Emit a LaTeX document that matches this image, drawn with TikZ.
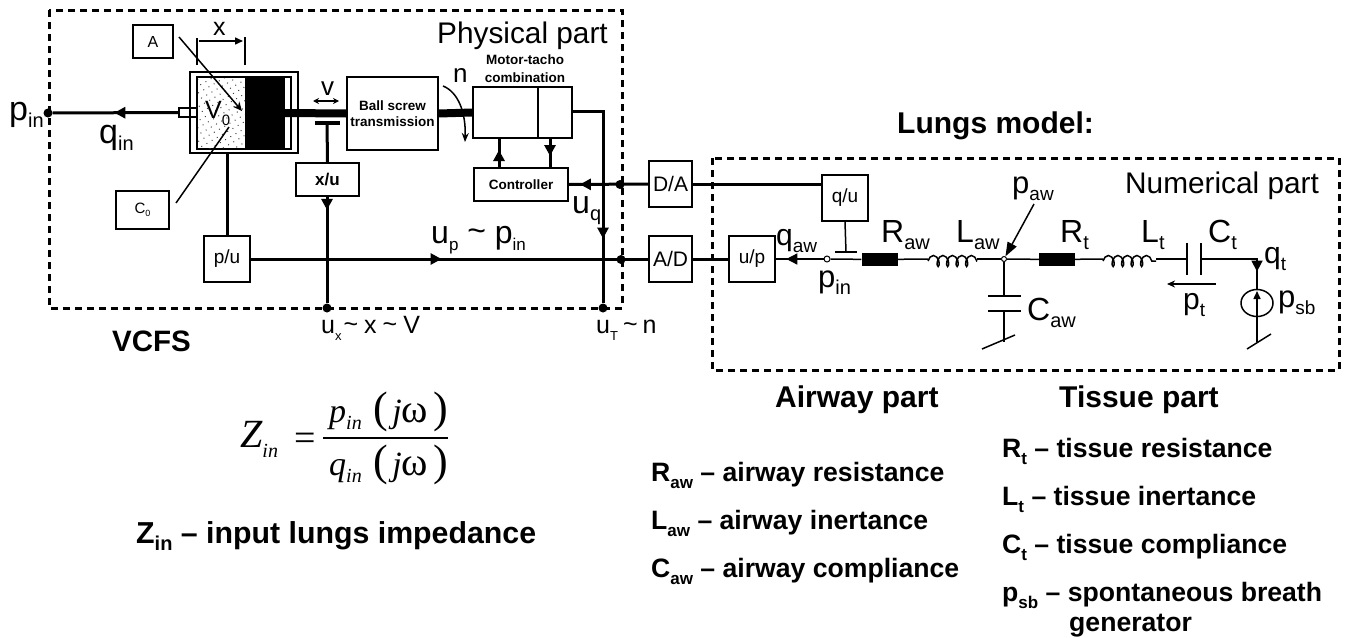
\documentclass[tikz,border=0pt]{standalone}
\usepackage{fontspec}
\setmainfont{Liberation Sans}
\newfontfamily\frmfont{Liberation Serif}
\usetikzlibrary{arrows.meta,decorations.markings,decorations.pathmorphing,patterns.meta,shapes.geometric}
\newcommand{\lowr}[2][19]{\raisebox{-7pt}{\fontsize{#1}{#1}\selectfont #2}}
\newcommand{\sz}[1]{\fontsize{#1}{#1}\selectfont}
\newcommand{\frmpar}[1]{{\upshape\sz{44}#1}}
\tikzset{
  bx/.style={draw,line width=1.6pt,inner sep=0pt,align=center},
  wire/.style={line width=1.5pt},
  sig/.style={line width=3pt},
  rod/.style={line width=8pt},
  frame/.style={line width=3pt,dash pattern=on 7pt off 5pt},
  lab/.style={anchor=base west,inner sep=0pt,font=\sz{#1}},
  lab/.default=32,
  bold/.style={anchor=base west,inner sep=0pt,font=\bfseries\sz{#1}},
  bold/.default=26.6,
  frm/.style={anchor=base west,inner sep=0pt,font=\frmfont\sz{#1}},
  frm/.default=34,
  dot/.style={circle,fill=black,inner sep=0pt,minimum size=9pt},
  odot/.style={circle,draw,fill=white,line width=1pt,inner sep=0pt,minimum size=6pt},
  res/.style={fill=black,inner sep=0pt,minimum width=36pt,minimum height=13pt},
  midtip/.style={postaction={decorate},decoration={markings,mark=at position #1 with {\arrow{Triangle[length=11pt,width=11pt]}}}},
  coilw/.style={wire,decoration={coil,aspect=0.55,segment length=9.5pt,amplitude=5.5pt},decorate},
}
\begin{document}
\begin{tikzpicture}[x=1pt,y=-1pt]
\path[use as bounding box] (0,0) rectangle (1346,637);

\draw[frame] (49,10) rectangle (622,308);
\draw[frame] (712,158) rectangle (1339,370);

\node[bx,minimum width=108pt,minimum height=81pt] (cyl) at (244,112.5) {};
\draw[line width=1.6pt] (197,77) rectangle (291,149);
\path[pattern={Dots[distance=6pt,radius=0.7pt,angle=30]},pattern color=black!75] (198,78) rectangle (245,148);
\fill (245,78) rectangle (285,148);
\node[bx,minimum width=18pt,minimum height=9pt,line width=1.2pt] (nozzle) at (188,112.5) {};
\node[lab=25] (vzero) at (205,118) {V\lowr[15]{0}};

\node[dot] (pinj) at (48,113) {};
\draw[sig,midtip=0.51] (nozzle.west) -- (pinj);
\node[lab=34] (pinl) at (9,120) {p\lowr[20]{in}};
\node[lab=34] (qinl) at (99,143) {q\lowr[20]{in}};

\node[bx,minimum width=40pt,minimum height=33pt,font=\sz{16}] (abox) at (153,41.5) {A};
\node[bx,minimum width=53pt,minimum height=38pt,font=\sz{15}] (cbox) at (142.5,210) {C\raisebox{-3pt}{\sz{9}0}};
\coordinate (afrom) at (179,37);
\coordinate (ato) at (242,111);
\coordinate (cfrom) at (176,203);
\coordinate (cto) at (229,127);
\draw[wire,-{Stealth[length=9pt,width=8pt]}] (afrom) -- (ato);
\draw[wire] (cfrom) -- (cto);

\coordinate (xl1) at (197,38);
\coordinate (xl2) at (197,65);
\coordinate (xr1) at (245,37);
\coordinate (xr2) at (245,65);
\draw[wire] (xl1) -- (xl2);
\draw[wire] (xr1) -- (xr2);
\draw[wire,-{Triangle[length=8pt,width=7pt]}] (199,41) -- (243,41);
\node[lab=25] (xlab) at (213,35) {x};

\node[bx,minimum width=91pt,minimum height=73pt,font=\bfseries\sz{13.5},align=center] (ball) at (392.5,113.5) {Ball screw\\[3pt]transmission};
\node[bx,minimum width=99pt,minimum height=51pt] (motor) at (522.5,112.5) {};
\draw[line width=1.6pt] (538,87) -- (538,138);
\node[bold=13.5,anchor=base] (mot1) at (525,64) {Motor-tacho};
\node[bold=13.5,anchor=base] (mot2) at (525,82) {combination};
\node[bx,minimum width=94pt,minimum height=33pt,font=\bfseries\sz{13.5}] (ctrl) at (521,184.5) {Controller};
\draw[rod] (285,113) -- (ball.west);
\draw[rod] (ball.east) -- (motor.west);
\draw[sig,midtip=0.6] (499,168) -- (499,138);
\draw[sig,midtip=0.6] (550,138) -- (550,168);

\coordinate (nfrom) at (443,86);
\coordinate (nto) at (465,142);
\draw[wire,-{Stealth[length=9pt,width=7pt]}] (nfrom) .. controls (458,92) and (466,112) .. (nto);
\node[lab=26] (nlab) at (453,82) {n};

\node[lab=26] (vlab) at (321,95) {v};
\draw[wire,{Stealth[length=6pt,width=6pt]}-{Stealth[length=6pt,width=6pt]}] (313,101) -- (339,101);

\node[bx,minimum width=63pt,minimum height=33pt,font=\bfseries\sz{17}] (xu) at (327.5,179.5) {x/u};
\coordinate (plate) at (327,123);
\draw[line width=4pt] (315,123) -- (340,123);
\draw[sig] (plate) -- (xu.north);
\node[dot] (uxj) at (327,308) {};
\draw[sig,midtip=0.13] (327,196) -- (uxj);

\node[bx,minimum width=46pt,minimum height=46pt,font=\sz{19}] (pu) at (227,259) {p/u};
\draw[sig] (227,153) -- (pu.north);
\node[bx,minimum width=43pt,minimum height=46pt,font=\sz{21}] (ad) at (670.5,259) {A/D};
\node[bx,minimum width=43pt,minimum height=46pt,font=\sz{21}] (da) at (670.5,184) {D/A};
\node[dot] (adj) at (621,259.5) {};
\node[dot] (daj) at (620,184.5) {};
\draw[sig,midtip=0.48] (pu.east) -- (ad.west);
\draw[sig,midtip=0.86] (da.west) -- (ctrl.east);
\node[dot] (utj) at (603,308) {};
\coordinate (tach) at (572,111);
\draw[sig,midtip=0.71] (tach) -- (utj |- tach) -- (utj);

\node[lab=29.8] (phys) at (437,43) {Physical part};
\node[lab=32] (uql) at (572,213) {u\lowr[20]{q}};
\node[lab=32] (upl) at (431,243) {u\lowr[17]{p} \raisebox{2pt}{\textasciitilde} p\lowr[17]{in}};
\node[lab=25] (uxl) at (321,333) {u\lowr[13]{x}\hspace{2pt}\raisebox{1pt}{\textasciitilde}\hspace{6pt}x\hspace{6pt}\raisebox{1pt}{\textasciitilde}\hspace{6pt}V};
\node[lab=25] (utl) at (596,333) {u\lowr[13]{T}\hspace{5pt}\raisebox{1pt}{\textasciitilde}\hspace{5pt}n};
\node[bold=29.5] (vcfs) at (112,351) {VCFS};

\node[bx,minimum width=46pt,minimum height=46pt,font=\sz{19}] (up) at (752,259) {u/p};
\node[bx,minimum width=46pt,minimum height=46pt,font=\sz{19}] (qu) at (845,198) {q/u};
\draw[sig] (ad.east) -- (up.west);
\draw[sig] (da.east) -- (qu.west |- da.east);
\node[odot] (pinn) at (827,259) {};
\node[res] (raw) at (879.5,259.5) {};
\node[odot,minimum size=5pt] (pawn) at (1004,259) {};
\node[res] (rt) at (1057,259.5) {};
\coordinate (law1) at (928,261);
\coordinate (law2) at (977,261);
\coordinate (lt1) at (1103,261);
\coordinate (lt2) at (1156,261);
\draw[wire,midtip=0.78] (pinn) -- (up.east);
\draw[wire] (pinn) -- (raw);
\draw[wire] (raw) -- (928,259);
\draw[coilw] (law1) -- (law2);
\draw[wire] (977,259) -- (pawn);
\draw[wire] (pawn) -- (rt);
\draw[wire] (rt) -- (1103,259);
\draw[coilw] (lt1) -- (lt2);
\draw[wire] (1156,259) -- (1187,259);
\draw[wire] (1187,243) -- (1187,275);
\draw[wire] (1201,243) -- (1201,275);
\coordinate (qplate) at (846,252);
\draw[wire] (qu.south) -- (qplate);
\draw[wire] (835,252) -- (857,252);

\coordinate (capa) at (1004,296);
\coordinate (capb) at (1004,311);
\coordinate (gnda) at (1004,342);
\draw[wire] (pawn) -- (capa);
\draw[wire] (988,296) -- (1021,296);
\draw[wire] (988,311) -- (1021,311);
\draw[wire] (capb) -- (gnda);
\draw[wire] (982,349) -- (1015,335);
\coordinate (pawfrom) at (1034,204);
\draw[wire,-{Triangle[length=14pt,width=10pt]}] (pawfrom) -- (pawn);

\node[draw,ellipse,line width=1.5pt,minimum width=32pt,minimum height=27pt,inner sep=0pt] (src) at (1257,303) {};
\draw[wire,midtip=0.8] (1201,259) -- (1257,259) -- (src.north);
\draw[wire,-{Triangle[length=8pt,width=7pt]}] (src.south) -- (1257,291);
\coordinate (gndb) at (1257,342);
\draw[wire] (src.south) -- (gndb);
\draw[wire] (1247,349) -- (1271,334);
\draw[wire,-{Stealth[length=8pt,width=7pt]}] (1216,284) -- (1167,284);

\node[lab=30] (qawl) at (776,245) {q\lowr[19]{aw}};
\node[lab=32] (rawl) at (881,242) {R\lowr[20]{aw}};
\node[lab=32] (lawl) at (956,242) {L\lowr[20]{aw}};
\node[lab=31] (pin2l) at (818,287) {p\lowr[20]{in}};
\node[lab=31] (pawl) at (1012,193) {p\lowr[19]{aw}};
\node[lab=32] (cawl) at (1027,320) {C\lowr[20]{aw}};
\node[lab=32] (rtl) at (1060,242) {R\lowr[20]{t}};
\node[lab=32] (ltl) at (1141,242) {L\lowr[20]{t}};
\node[lab=32] (ctl) at (1208,242) {C\lowr[20]{t}};
\node[lab=30] (qtl) at (1264,263) {q\lowr[19]{t}};
\node[lab=30] (ptl) at (1183,309) {p\lowr[19]{t}};
\node[lab=31] (psbl) at (1278,307) {p\lowr[19]{sb}};
\node[lab=29.8] (numl) at (1125,193) {Numerical part};

\node[bold=30] (lungs) at (897,133) {Lungs model:};
\node[bold=30] (airp) at (775,407) {Airway part};
\node[bold=30] (tisp) at (1059,407) {Tissue part};

\node[bold] (raw2) at (651,481) {R\lowr[17]{aw} -- airway resistance};
\node[bold] (law2l) at (651,529) {L\lowr[17]{aw} -- airway inertance};
\node[bold] (caw2) at (651,577) {C\lowr[17]{aw} -- airway compliance};
\node[bold] (rt2) at (1002,457) {R\lowr[17]{t} -- tissue resistance};
\node[bold] (lt2l) at (1002,505) {L\lowr[17]{t} -- tissue inertance};
\node[bold] (ct2) at (1002,553) {C\lowr[17]{t} -- tissue compliance};
\node[bold] (psb2) at (1002,601) {p\lowr[17]{sb} -- spontaneous breath};
\node[bold] (psb3) at (1069,631) {generator};
\node[bold=30.3] (zinl) at (136,543) {Z\lowr[20]{in} -- input lungs impedance};

\node[frm=40] (zin) at (240,447) {\itshape Z\raisebox{-10pt}{\sz{20}in}};
\node[frm=38] (eqs) at (294,450) {=};
\node[frm] (pfr) at (329,422) {\itshape p\lowr[20]{in}\hspace{12pt}\frmpar{(}\hspace{4pt}j\upshape\sz{40}ω\hspace{5pt}\frmpar{)}};
\node[frm] (qfr) at (329,475) {\itshape q\lowr[20]{in}\hspace{12pt}\frmpar{(}\hspace{4pt}j\upshape\sz{40}ω\hspace{5pt}\frmpar{)}};
\coordinate (barl) at (323,438);
\coordinate (barr) at (448,438);
\draw[line width=1.6pt] (barl) -- (barr);
\end{tikzpicture}
\end{document}
